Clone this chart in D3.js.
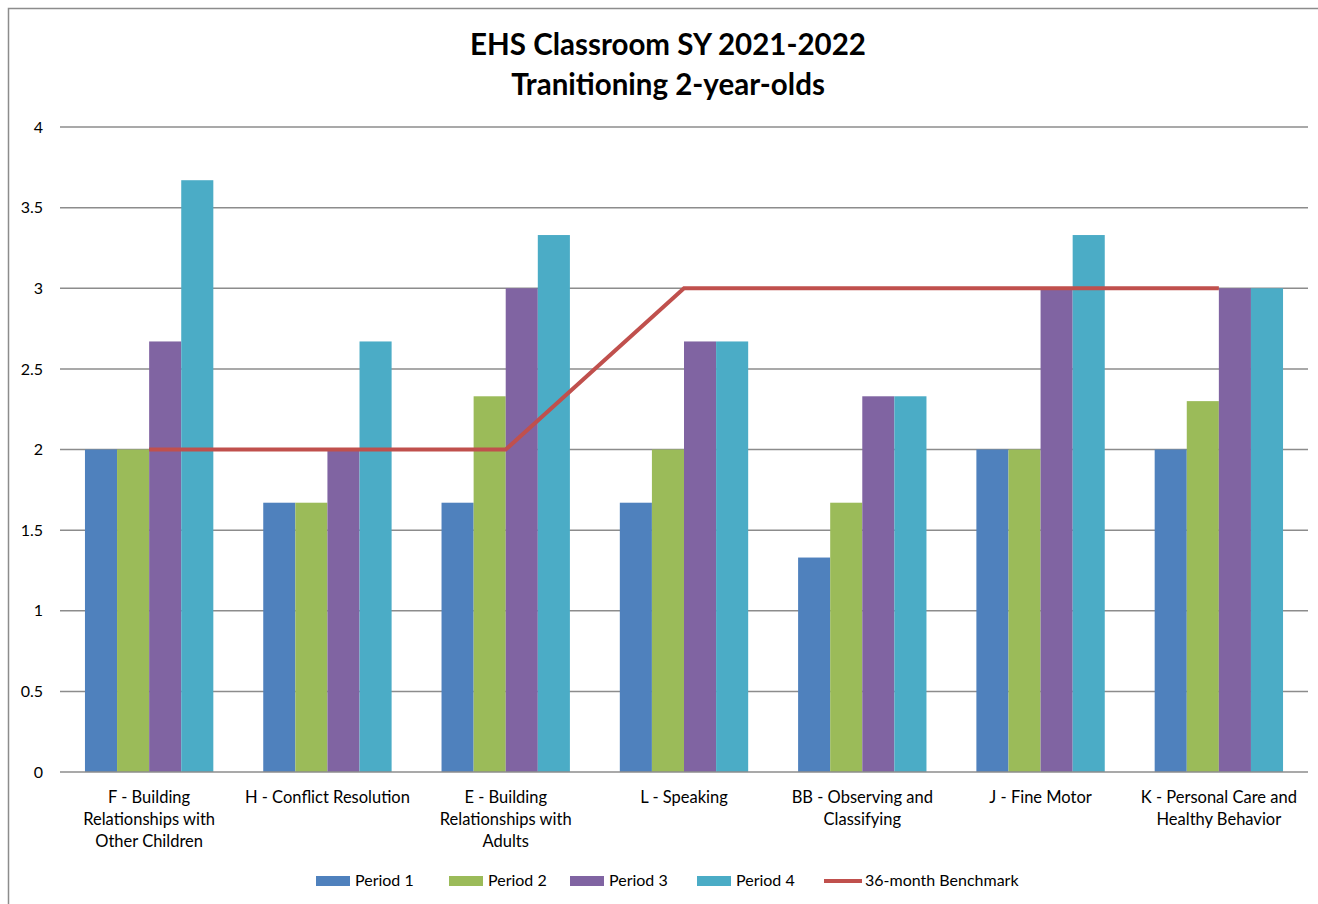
<!DOCTYPE html>
<html>
<head>
<meta charset="utf-8">
<script src="https://cdn.jsdelivr.net/npm/d3@7"></script>
<style>
  body { margin: 0; background: #fff; }
  text { font-family: Lato, "Open Sans", sans-serif; fill: #000; }
</style>
</head>
<body>
<div class="chart"></div>
<script>
// data
var categories = [
  "F - Building Relationships with Other Children",
  "H - Conflict Resolution",
  "E - Building Relationships with Adults",
  "L - Speaking",
  "BB - Observing and Classifying",
  "J - Fine Motor",
  "K - Personal Care and Healthy Behavior"
];
var categoryLines = [
  ["F - Building", "Relationships with", "Other Children"],
  ["H - Conflict Resolution"],
  ["E - Building", "Relationships with", "Adults"],
  ["L - Speaking"],
  ["BB - Observing and", "Classifying"],
  ["J - Fine Motor"],
  ["K - Personal Care and", "Healthy Behavior"]
];
var period1 = [2, 1.67, 1.67, 1.67, 1.33, 2, 2];
var period2 = [2, 1.67, 2.33, 2, 1.67, 2, 2.3];
var period3 = [2.67, 2, 3, 2.67, 2.33, 3, 3];
var period4 = [3.67, 2.67, 3.33, 2.67, 2.33, 3.33, 3];
var benchmark = [2, 2, 2, 3, 3, 3, 3];
var seriesNames = ["Period 1", "Period 2", "Period 3", "Period 4"];
var seriesColors = ["#4F81BD", "#9BBB59", "#8064A2", "#4BACC6"];
var yTicks = [0, 0.5, 1, 1.5, 2, 2.5, 3, 3.5, 4];

var svgWidth = 1318;
var svgHeight = 904;

var margin = { top: 127, right: 10, bottom: 132, left: 60 };
var width = 1308 - margin.left;
var height = 772 - margin.top;

var svg = d3.select(".chart").append("svg")
  .attr("width", svgWidth)
  .attr("height", svgHeight);

// outer frame
svg.append("rect")
  .attr("x", 8.5).attr("y", 8.5)
  .attr("width", svgWidth + 10).attr("height", svgHeight + 10)
  .attr("fill", "none")
  .attr("stroke", "#8c8c8c")
  .attr("stroke-width", 1.5);

// title
svg.append("text")
  .attr("x", 668).attr("y", 55)
  .attr("text-anchor", "middle")
  .style("font-size", "29.5px").style("font-weight", "bold")
  .text("EHS Classroom SY 2021-2022");
svg.append("text")
  .attr("x", 668).attr("y", 95)
  .attr("text-anchor", "middle")
  .style("font-size", "29.5px").style("font-weight", "bold")
  .text("Tranitioning 2-year-olds");

var chartGroup = svg.append("g")
  .attr("transform", `translate(${margin.left}, ${margin.top})`);

var x0 = d3.scaleBand()
  .domain(categories)
  .range([0, width])
  .paddingInner(0.28)
  .paddingOuter(0.14);

var x1 = d3.scaleBand()
  .domain(seriesNames)
  .range([0, x0.bandwidth()]);

var y = d3.scaleLinear().domain([0, 4]).range([height, 0]);

// gridlines
chartGroup.append("g")
  .selectAll("line")
  .data(yTicks.filter(d => d > 0))
  .enter().append("line")
  .attr("x1", 0).attr("x2", width)
  .attr("y1", d => y(d)).attr("y2", d => y(d))
  .attr("stroke", "#8c8c8c")
  .attr("stroke-width", 1.5);

// y labels
var leftAxis = d3.axisLeft(y).tickValues(yTicks).tickSize(0).tickPadding(17)
  .tickFormat(d => d);
var yAxis = chartGroup.append("g").call(leftAxis);
yAxis.select(".domain").remove();
yAxis.selectAll("text")
  .style("font-size", "16px")
  .style("font-family", "Lato, sans-serif")
  .attr("fill", "#000");

// bars
var allSeries = [period1, period2, period3, period4];
categories.forEach(function(cat, i) {
  allSeries.forEach(function(s, j) {
    chartGroup.append("rect")
      .attr("x", x0(cat) + x1(seriesNames[j]))
      .attr("y", y(s[i]))
      .attr("width", x1.bandwidth())
      .attr("height", height - y(s[i]))
      .attr("fill", seriesColors[j]);
  });
});

// x axis line
chartGroup.append("line")
  .attr("x1", 0).attr("x2", width)
  .attr("y1", height).attr("y2", height)
  .attr("stroke", "#8c8c8c")
  .attr("stroke-width", 1.5);

// category labels
categories.forEach(function(cat, i) {
  var t = chartGroup.append("text")
    .attr("text-anchor", "middle")
    .attr("x", x0(cat) + x0.bandwidth() / 2)
    .attr("y", height + 31)
    .style("font-size", "16.5px")
    .attr("fill", "#222");
  categoryLines[i].forEach(function(line, k) {
    t.append("tspan")
      .attr("x", x0(cat) + x0.bandwidth() / 2)
      .attr("dy", k === 0 ? 0 : 22)
      .text(line);
  });
});

// benchmark line
var line = d3.line()
  .x((d, i) => x0(categories[i]) + x0.bandwidth() / 2)
  .y(d => y(d));
chartGroup.append("path")
  .datum(benchmark)
  .attr("d", line)
  .attr("fill", "none")
  .attr("stroke", "#C0504D")
  .attr("stroke-width", 4);

// legend
var legendItems = [
  { name: "Period 1", x: 316 },
  { name: "Period 2", x: 449 },
  { name: "Period 3", x: 570 },
  { name: "Period 4", x: 697 }
];
legendItems.forEach(function(item, j) {
  svg.append("rect")
    .attr("x", item.x).attr("y", 876)
    .attr("width", 34).attr("height", 10)
    .attr("fill", seriesColors[j]);
  svg.append("text")
    .attr("x", item.x + 39).attr("y", 886)
    .style("font-size", "16px")
    .text(item.name);
});
svg.append("line")
  .attr("x1", 824).attr("x2", 862)
  .attr("y1", 881).attr("y2", 881)
  .attr("stroke", "#C0504D")
  .attr("stroke-width", 4);
svg.append("text")
  .attr("x", 865).attr("y", 886)
  .style("font-size", "16px")
  .text("36-month Benchmark");
</script>
</body>
</html>
